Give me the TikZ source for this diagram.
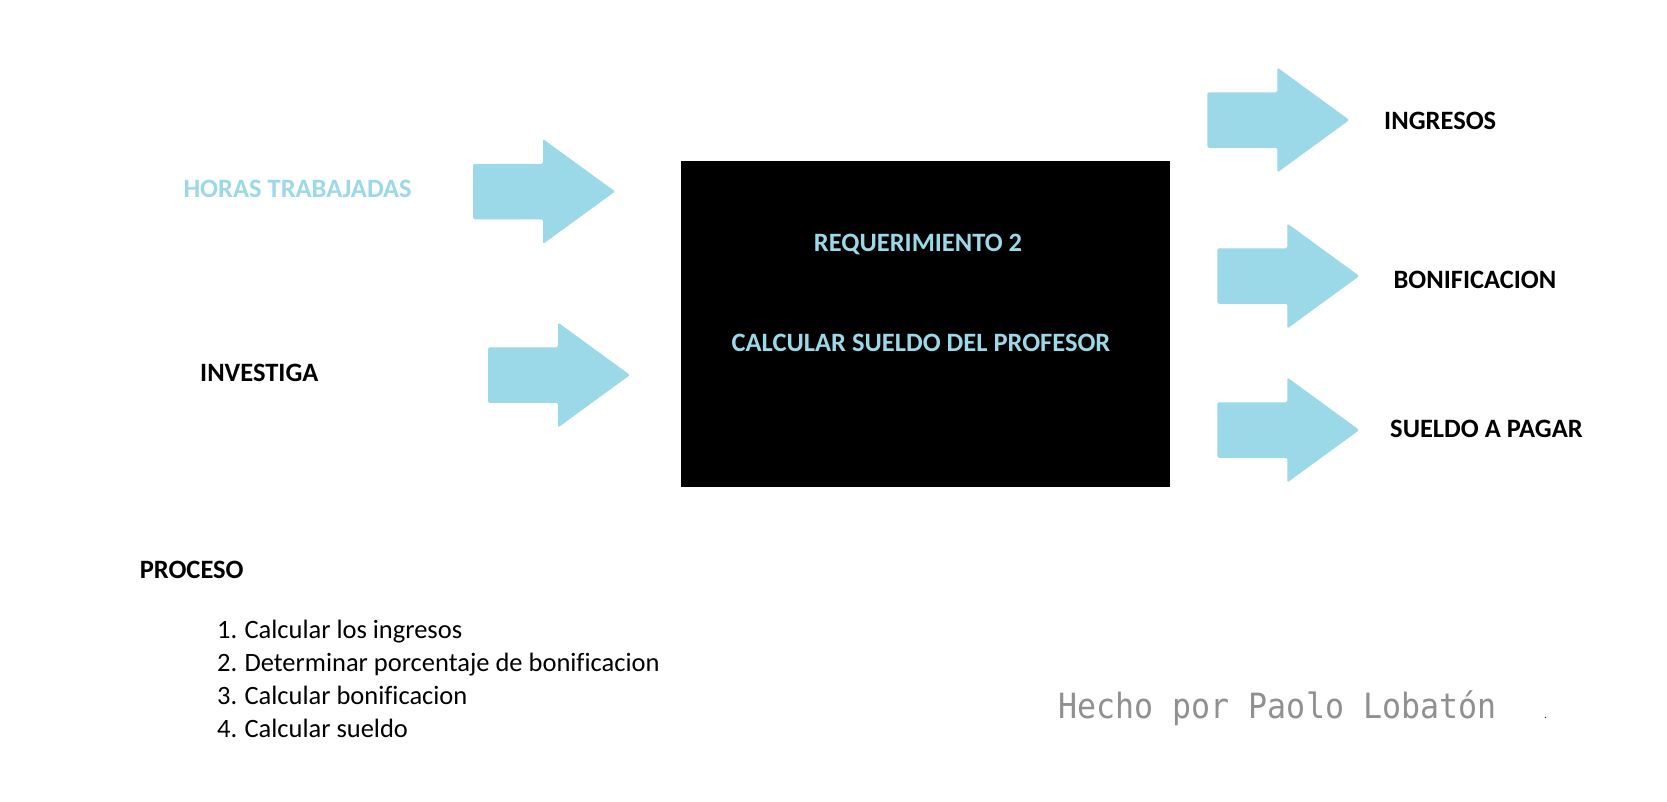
\documentclass[tikz,border=0pt]{standalone}
\usepackage{fontspec}
\setmainfont{Carlito}[Ligatures=CommonOff]
\newfontfamily\thinmono{DejaVu Sans Mono}
\definecolor{skyb}{HTML}{9BD8E8}
\definecolor{signgray}{HTML}{909090}
\newcommand\fatarrow[2]{\fill[skyb, rounded corners=1.5pt] (#1,#2-27.75) -- ++(70,0) -- ++(0,-24.75) -- ++(72,52.5) -- ++(-72,52.5) -- ++(0,-24.75) -- ++(-70,0) -- cycle;}
\begin{document}
\begin{tikzpicture}[x=1pt,y=-1pt,
  lbl/.style={inner sep=0pt, font=\fontsize{26.5}{33}\selectfont\bfseries},
  item/.style={inner sep=0pt, anchor=base west, font=\fontsize{26.5}{33}\selectfont},
  sign/.style={inner sep=0pt, anchor=base west, text=signgray, yscale=1.1, font=\thinmono\fontsize{31.6}{32}\selectfont}]
\useasboundingbox[fill=white] (0,0) rectangle (1667,801);
% input arrows
\fatarrow{473}{191.5}
\fatarrow{488}{375}
% output arrows
\fatarrow{1207.3}{120}
\fatarrow{1217.3}{276}
\fatarrow{1217.3}{430}
% process box
\node[fill=black, minimum width=488.5pt, minimum height=325.7pt, inner sep=0pt, anchor=north west] (box) at (681,161) {};
\node[lbl, text=skyb, anchor=base] (req) at (918,251.8) {REQUERIMIENTO 2};
\node[lbl, text=skyb, anchor=base] (calc) at (921,351.8) {CALCULAR SUELDO DEL PROFESOR};
% inputs
\node[lbl, text=skyb, anchor=base west] (horas) at (183.3,197.8) {HORAS TRABAJADAS};
\node[lbl, anchor=base west] (inv) at (200,381.8) {INVESTIGA};
% outputs
\node[lbl, anchor=base west] (ing) at (1384,129) {INGRESOS};
\node[lbl, anchor=base west] (bon) at (1393.3,288.5) {BONIFICACION};
\node[lbl, anchor=base west] (sue) at (1390,437.5) {SUELDO A PAGAR};
% process list
\node[lbl, anchor=base west] (proc) at (139.6,578.5) {PROCESO};
\node[item] (n1) at (217,638) {1.};
\node[item] (t1) at (244.3,638) {Calcular los ingresos};
\node[item] (n2) at (217,671.3) {2.};
\node[item] (t2) at (244.3,671.3) {Determinar porcentaje de bonificacion};
\node[item] (n3) at (217,704.2) {3.};
\node[item] (t3) at (244.3,704.2) {Calcular bonificacion};
\node[item] (n4) at (217,737.5) {4.};
\node[item] (t4) at (244.3,737.5) {Calcular sueldo};
% signature
\node[sign] (firma) at (1058.5,718.3) {Hecho por Paolo Lobatón};
\node[inner sep=0pt, anchor=base, text=black!85, font=\fontsize{12}{12}\selectfont] (dot) at (1545.5,718.3) {.};
\end{tikzpicture}
\end{document}
